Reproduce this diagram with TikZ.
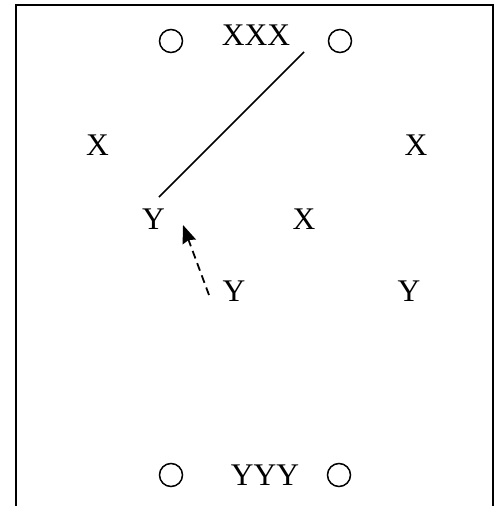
\documentclass[tikz,border=0pt]{standalone}
\usepackage{fontspec}
\setmainfont{Liberation Serif}
\usetikzlibrary{arrows.meta}
\begin{document}
\begin{tikzpicture}[x=1pt,y=-1pt,
  lbl/.style={anchor=base,inner sep=0pt,font=\fontsize{31.5}{31.5}\selectfont},
  ring/.style={draw,line width=1.5pt,circle,minimum size=23pt,inner sep=0pt},
  frameline/.style={line width=2.4pt},
  conn/.style={line width=1.6pt},
  dasharrow/.style={line width=1.8pt,dash pattern=on 8pt off 5pt,-{Stealth[length=18pt,width=14pt,inset=2pt]}}]
\useasboundingbox (0,0) rectangle (498,506);
% frame (open at bottom)
\coordinate (fbl) at (16,506);
\coordinate (ftl) at (16,5);
\coordinate (ftr) at (493,5);
\coordinate (fbr) at (493,506);
\draw[frameline] (fbl) -- (ftl) -- (ftr) -- (fbr);
% circles
\node[ring] (c1) at (171,41) {};
\node[ring] (c2) at (340,41) {};
\node[ring] (c3) at (171,475) {};
\node[ring] (c4) at (339,475) {};
% labels
\node[lbl] (xxx) at (256,45) {XXX};
\node[lbl] (xl) at (97.5,155) {X};
\node[lbl] (xr) at (416,155) {X};
\node[lbl] (yl) at (153.5,229) {Y};
\node[lbl] (xm) at (304,229) {X};
\node[lbl] (ylow) at (234,301) {Y};
\node[lbl] (yr) at (409,301) {Y};
\node[lbl] (yyy) at (265,485) {YYY};
% connectors
\coordinate (l1) at (304,52);
\coordinate (l2) at (159,197);
\draw[conn] (l1) -- (l2);
\coordinate (a1) at (209,295);
\coordinate (a2) at (183,225);
\draw[dasharrow] (a1) -- (a2);
\end{tikzpicture}
\end{document}
